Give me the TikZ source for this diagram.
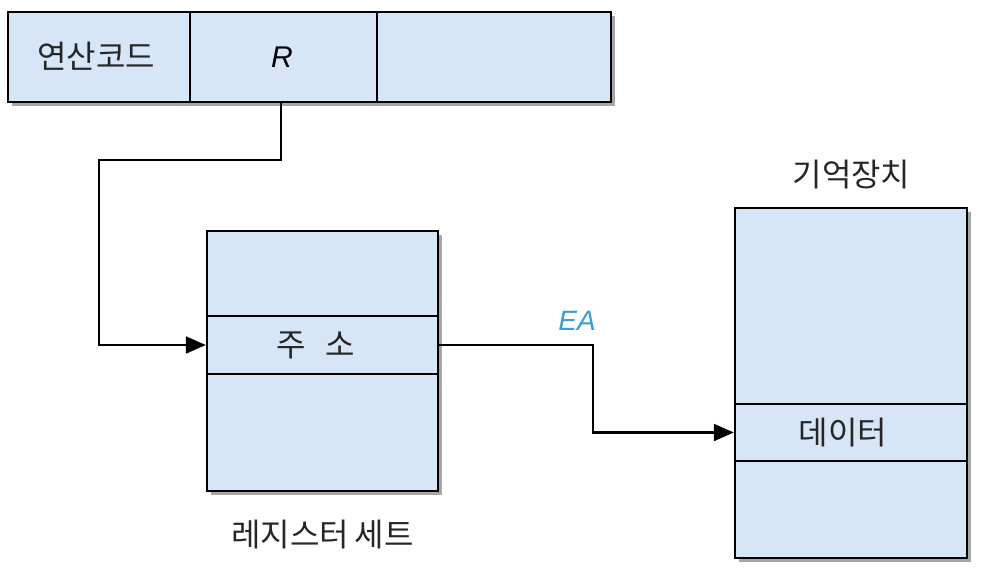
\documentclass[tikz,border=0pt]{standalone}
\usepackage{fontspec}
\setmainfont{Liberation Sans}
\newfontfamily\kr{Noto Sans CJK KR}
\usetikzlibrary{arrows.meta}
\definecolor{cellblue}{HTML}{D7E6F6}
\definecolor{shadowgray}{HTML}{A6A6A6}
\definecolor{eablue}{HTML}{3C9BDA}
\begin{document}
\begin{tikzpicture}[x=1pt,y=-1pt,
  cell/.style={draw=black, line width=2.4pt, fill=cellblue, inner sep=0pt},
  shade/.style={fill=shadowgray, draw=none},
  conn/.style={draw=black, line width=2.2pt, -{Triangle[length=20pt,width=17pt]}},
  krtext/.style={font=\kr\fontsize{32}{36}\selectfont, text=black!85, inner sep=0pt},
  lattext/.style={font=\fontsize{30}{34}\selectfont\itshape, inner sep=0pt}]
\useasboundingbox (0,0) rectangle (994,586);
% shadows
\path[shade] (12,16) rectangle (615,106);
\path[shade] (211,235) rectangle (442,495);
\path[shade] (739,212) rectangle (971,562);
% instruction
\node[cell, minimum width=182pt, minimum height=90pt] (op) at (99,57) {};
\node[cell, minimum width=187pt, minimum height=90pt] (r) at (283.5,57) {};
\node[cell, minimum width=234pt, minimum height=90pt] (ad) at (494,57) {};
\node[krtext] (optext) at (96,56) {연산코드};
\node[lattext] (rtext) at (282,57) {R};
% register set
\node[cell, minimum width=231pt, minimum height=85pt] (reg1) at (322.5,273.5) {};
\node[cell, minimum width=231pt, minimum height=58pt] (addr) at (322.5,345) {};
\node[cell, minimum width=231pt, minimum height=117pt] (reg3) at (322.5,432.5) {};
\node[krtext] (addrtext) at (315.5,345) {주\hspace{20pt}소};
\node[krtext] (reglbl) at (322.5,535) {레지스터\hspace{6pt}세트};
% memory
\node[cell, minimum width=232pt, minimum height=196pt] (mem1) at (851,306) {};
\node[cell, minimum width=232pt, minimum height=57pt] (data) at (851,432.5) {};
\node[cell, minimum width=232pt, minimum height=97pt] (mem3) at (851,509.5) {};
\node[krtext] (datatext) at (843,433) {데이터};
\node[krtext] (memlbl) at (851.5,175) {기억장치};
% connectors
\coordinate (b1) at (99,160);
\coordinate (b2) at (593,390);
\draw[conn] (r.south -| 281,0) |- (b1) |- (addr.west);
\draw[conn] (addr.east) -| (b2) |- (data.west);
\node[lattext, text=eablue, font=\fontsize{28}{32}\selectfont\itshape] (ea) at (577,321) {EA};
\end{tikzpicture}
\end{document}
